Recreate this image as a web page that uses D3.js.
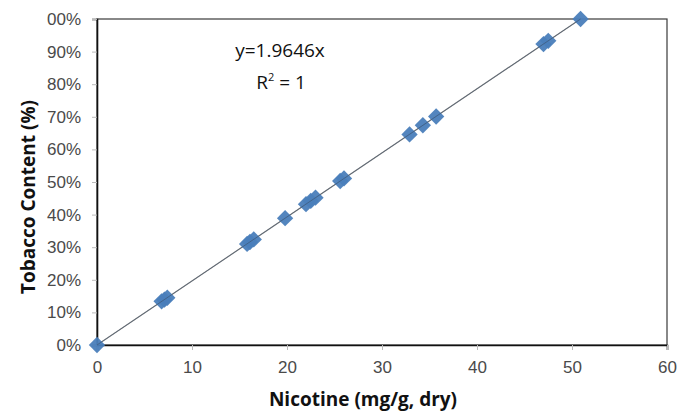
<!DOCTYPE html>
<html>
<head>
<meta charset="utf-8">
<script src="https://cdn.jsdelivr.net/npm/d3@7"></script>
<style>
  html, body { margin: 0; padding: 0; background: #fff; }
  svg { display: block; font-family: "Open Sans", sans-serif; }
</style>
</head>
<body>
<div id="chart"></div>
<script>
// values
const nicotine = [0, 6.8, 7.1, 7.4, 15.8, 16.1, 16.5, 19.8, 22.0, 22.5, 23.0, 25.6, 26.0, 32.9, 34.3, 35.7, 47.0, 47.5, 50.9];
const tobacco  = [0, 13.4, 13.9, 14.5, 31.0, 31.6, 32.4, 38.9, 43.2, 44.2, 45.2, 50.3, 51.1, 64.6, 67.4, 70.1, 92.3, 93.3, 100.0];
const xTicks = [0, 10, 20, 30, 40, 50, 60];
const yTicks = [0, 10, 20, 30, 40, 50, 60, 70, 80, 90, 100];
const yTickLabels = ["0%", "10%", "20%", "30%", "40%", "50%", "60%", "70%", "80%", "90%", "00%"];
const slope = 1.9646;

(function() {
  const W = 677, H = 412;
  const m = { left: 97, right: 10, top: 19, bottom: 67 };

  const svg = d3.select("#chart").append("svg")
    .attr("width", W).attr("height", H);

  const x = d3.scaleLinear().domain([0, 60]).range([m.left, W - m.right]);
  const y = d3.scaleLinear().domain([0, 100]).range([H - m.bottom, m.top]);

  // plot frame
  svg.append("rect")
    .attr("x", x(0)).attr("y", y(100))
    .attr("width", x(60) - x(0)).attr("height", y(0) - y(100))
    .attr("fill", "none").attr("stroke", "#3a3a3a").attr("stroke-width", 1.2);

  // x axis
  const xAxis = svg.append("g")
    .attr("transform", `translate(0,${y(0)})`)
    .call(d3.axisBottom(x).tickValues(xTicks).tickSize(5).tickPadding(11).tickFormat(d3.format("d")));
  xAxis.select(".domain").attr("stroke", "#111").attr("stroke-width", 1.6);
  xAxis.selectAll(".tick line").attr("stroke", "#bbb");
  xAxis.selectAll("text").style("font-size", "17px").attr("fill", "#4a4a4a");

  // y axis
  const yAxis = svg.append("g")
    .attr("transform", `translate(${x(0)},0)`)
    .call(d3.axisLeft(y).tickValues(yTicks).tickSize(5).tickPadding(11)
      .tickFormat((d, i) => yTickLabels[i]));
  yAxis.select(".domain").attr("stroke", "#111").attr("stroke-width", 1.6);
  yAxis.selectAll(".tick line").attr("stroke", "#bbb");
  yAxis.selectAll("text").style("font-size", "17px").attr("fill", "#4a4a4a");

  // trend line over the data range
  const xMax = d3.max(nicotine);
  svg.append("line")
    .attr("x1", x(0)).attr("y1", y(0))
    .attr("x2", x(xMax)).attr("y2", y(slope * xMax))
    .attr("stroke", "#8a8a8a").attr("stroke-width", 1.2);

  // diamond markers
  const diamond = d3.symbol().type(d3.symbolDiamond2).size(170);
  svg.append("g").selectAll("path")
    .data(nicotine.map((v, i) => ({ x: v, y: tobacco[i] })))
    .join("path")
    .attr("d", diamond)
    .attr("transform", d => `translate(${x(d.x)},${y(d.y)})`)
    .attr("fill", "#4a7ebb")
    .attr("opacity", 0.95);

  // trend line shows through the markers
  svg.append("line")
    .attr("x1", x(0)).attr("y1", y(0))
    .attr("x2", x(xMax)).attr("y2", y(slope * xMax))
    .attr("stroke", "#3c4f66").attr("stroke-width", 0.8).attr("opacity", 0.7);

  // equation
  svg.append("text")
    .attr("x", 280).attr("y", 57)
    .attr("text-anchor", "middle")
    .style("font-size", "19px").attr("fill", "#111")
    .text(`y=${slope}x`);

  const r2 = svg.append("text")
    .attr("x", 281).attr("y", 89)
    .attr("text-anchor", "middle")
    .style("font-size", "19px").attr("fill", "#111");
  r2.append("tspan").text("R");
  r2.append("tspan").attr("dy", -8).style("font-size", "11px").text("2");
  r2.append("tspan").attr("dy", 8).text(" = 1");

  // axis titles
  svg.append("text")
    .attr("x", (x(0) + x(60)) / 2 - 19).attr("y", 406)
    .attr("text-anchor", "middle")
    .style("font-size", "19px").style("font-weight", "700").attr("fill", "#111")
    .text("Nicotine (mg/g, dry)");

  svg.append("text")
    .attr("transform", `translate(35,197) rotate(-90)`)
    .attr("text-anchor", "middle")
    .style("font-size", "19px").style("font-weight", "700").attr("fill", "#111")
    .text("Tobacco Content (%)");
})();
</script>
</body>
</html>
